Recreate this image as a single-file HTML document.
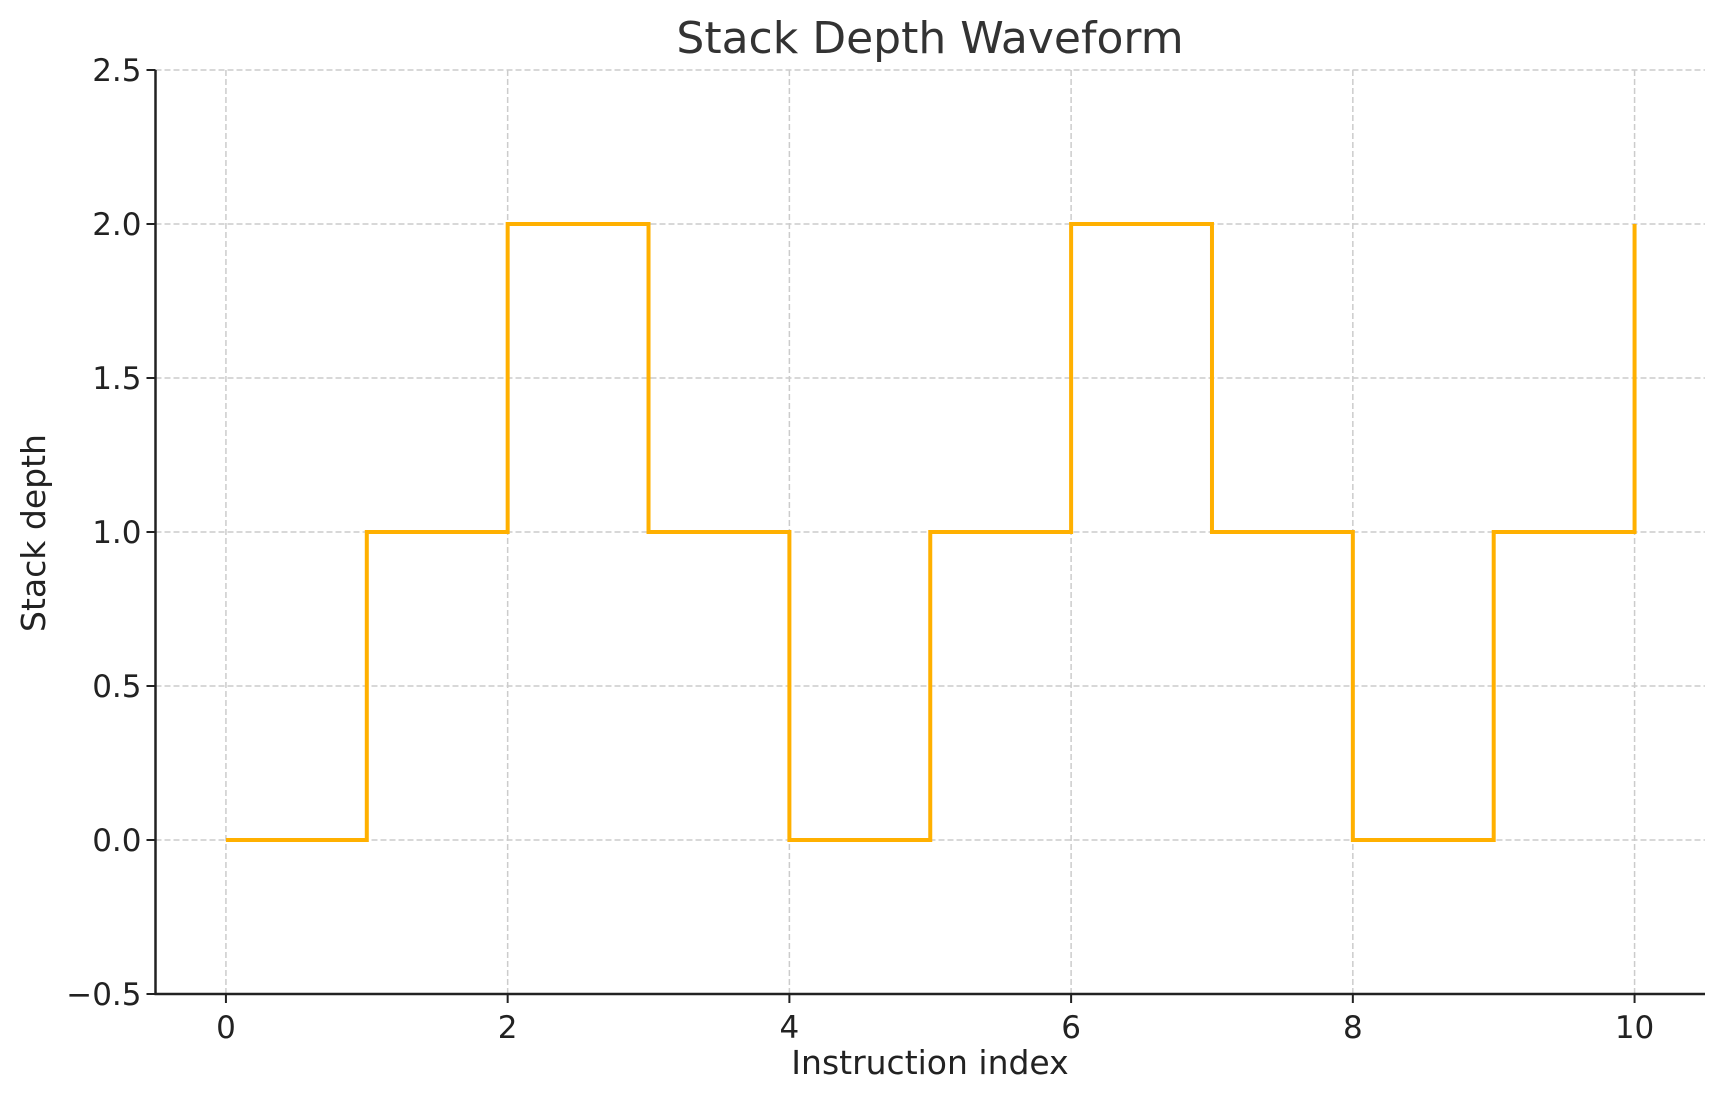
<!DOCTYPE html>
<html><head><meta charset="utf-8"><style>
html,body{margin:0;padding:0;background:#fff;}
svg{display:block;font-family:"DejaVu Sans","Liberation Sans",sans-serif;}
</style></head><body>
<svg id="chart" width="1725" height="1101" viewBox="0 0 1725 1101" xmlns="http://www.w3.org/2000/svg">
<rect width="1725" height="1101" fill="#fff"/>
<text x="930" y="53" font-size="44" text-anchor="middle" fill="#333">Stack Depth Waveform</text>
<text x="930" y="1074" font-size="33" text-anchor="middle" fill="#222">Instruction index</text>
<text x="0" y="0" font-size="33" text-anchor="middle" fill="#222" transform="translate(45,533) rotate(-90)">Stack depth</text>
<g id="grid"></g><g id="series"></g><g id="axes"></g>
</svg>
<script>
const xValues=[0,1,2,3,4,5,6,7,8,9,10];
const depthValues=[0,1,2,1,0,1,2,1,0,1,2];
const xTicks=[0,2,4,6,8,10];
const yTicks=[-0.5,0,0.5,1,1.5,2,2.5];
const yTickLabels=["\u22120.5","0.0","0.5","1.0","1.5","2.0","2.5"];
const X0=155.5,X1=1705,Y0=994,Y1=70,xMin=-0.5,xMax=10.5,yMin=-0.5,yMax=2.5;
const sx=v=>X0+(v-xMin)/(xMax-xMin)*(X1-X0);
const sy=v=>Y0-(v-yMin)/(yMax-yMin)*(Y0-Y1);
const NS="http://www.w3.org/2000/svg";
function mk(tag,attrs,parent){const e=document.createElementNS(NS,tag);for(const k in attrs)e.setAttribute(k,attrs[k]);parent.appendChild(e);return e;}
const grid=document.getElementById('grid'),series=document.getElementById('series'),axes=document.getElementById('axes');
xTicks.forEach(t=>{
 const g=mk('line',{x1:sx(t),x2:sx(t),y1:Y1,y2:Y0,stroke:'#ccc','stroke-width':1.5,'stroke-dasharray':'6,3'},grid);
 
 
 mk('line',{x1:sx(t),x2:sx(t),y1:Y0,y2:Y0+9,stroke:'#222','stroke-width':2},axes);
 const l=mk('text',{x:sx(t),y:Y0+44,'font-size':31,'text-anchor':'middle',fill:'#222'},axes);
 l.textContent=t;
 
 
});
yTicks.forEach((t,i)=>{
 const g=mk('line',{x1:X0,x2:X1,y1:sy(t),y2:sy(t),stroke:'#ccc','stroke-width':1.5,'stroke-dasharray':'6,3'},grid);
 
 
 mk('line',{x1:X0-9,x2:X0,y1:sy(t),y2:sy(t),stroke:'#222','stroke-width':2},axes);
 const l=mk('text',{x:X0-14,y:sy(t)+11,'font-size':31,'text-anchor':'end',fill:'#222'},axes);
 l.textContent=yTickLabels[i];
 
 
});
let d='M'+sx(xValues[0])+','+sy(depthValues[0]);
for(let i=1;i<xValues.length;i++){d+=' L'+sx(xValues[i])+','+sy(depthValues[i-1])+' L'+sx(xValues[i])+','+sy(depthValues[i]);}
const p=mk('path',{d:d,fill:'none',stroke:'#FFB000','stroke-width':4},series);


const ya=mk('line',{x1:X0,x2:X0,y1:Y1,y2:Y0+1,stroke:'#222','stroke-width':2.5},axes);


const xa=mk('line',{x1:X0-1,x2:X1,y1:Y0,y2:Y0,stroke:'#222','stroke-width':2.5},axes);


</script>
</body></html>
